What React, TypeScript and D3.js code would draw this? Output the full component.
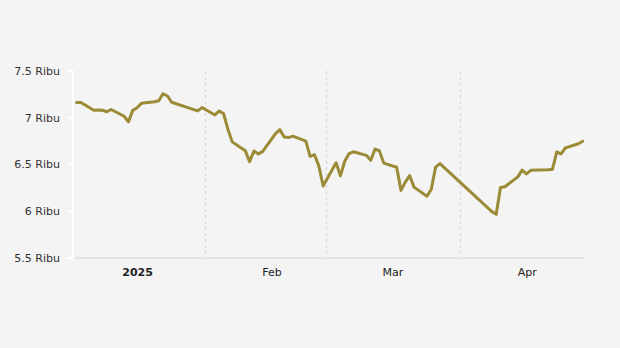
import React from "react";
import * as d3 from "d3";

const dates: string[] = [
  "2025-01-02","2025-01-03","2025-01-06","2025-01-07","2025-01-08","2025-01-09","2025-01-10",
  "2025-01-13","2025-01-14","2025-01-15","2025-01-16","2025-01-17","2025-01-20","2025-01-21",
  "2025-01-22","2025-01-23","2025-01-24","2025-01-30","2025-01-31",
  "2025-02-03","2025-02-04","2025-02-05","2025-02-06","2025-02-07","2025-02-10","2025-02-11",
  "2025-02-12","2025-02-13","2025-02-14","2025-02-17","2025-02-18","2025-02-19","2025-02-20",
  "2025-02-21","2025-02-24","2025-02-25","2025-02-26","2025-02-27","2025-02-28",
  "2025-03-03","2025-03-04","2025-03-05","2025-03-06","2025-03-07","2025-03-10","2025-03-11",
  "2025-03-12","2025-03-13","2025-03-14","2025-03-17","2025-03-18","2025-03-19","2025-03-20",
  "2025-03-21","2025-03-24","2025-03-25","2025-03-26","2025-03-27",
  "2025-04-08","2025-04-09","2025-04-10","2025-04-11","2025-04-14","2025-04-15","2025-04-16",
  "2025-04-17","2025-04-21","2025-04-22","2025-04-23","2025-04-24","2025-04-25","2025-04-28",
  "2025-04-29",
];

const values: number[] = [
  7163, 7164, 7080, 7083, 7080, 7064, 7088,
  7016, 6956, 7079, 7107, 7154, 7171, 7181,
  7257, 7233, 7166, 7073, 7109,
  7030, 7073, 7043, 6875, 6742, 6648, 6531,
  6645, 6613, 6638, 6830, 6873, 6794, 6788,
  6803, 6749, 6587, 6605, 6485, 6270,
  6519, 6380, 6535, 6617, 6636, 6598, 6545,
  6665, 6647, 6515, 6471, 6223, 6311, 6381,
  6258, 6161, 6235, 6472, 6510,
  5996, 5967, 6254, 6262, 6368, 6441, 6400,
  6438, 6445, 6449, 6634, 6613, 6678, 6722,
  6749,
];

const yTicks: number[] = [5500, 6000, 6500, 7000, 7500];
const monthStarts: string[] = ["2025-02-01", "2025-03-01", "2025-04-01"];
const monthLabels: { label: string; mid: string; bold: boolean }[] = [
  { label: "2025", mid: "2025-01-16T12:00:00Z", bold: true },
  { label: "Feb", mid: "2025-02-16T14:00:00Z", bold: false },
  { label: "Mar", mid: "2025-03-16T12:00:00Z", bold: false },
  { label: "Apr", mid: "2025-04-16T14:00:00Z", bold: false },
];

const W = 620;
const H = 348;
const left = 74;
const right = 585;
const top = 71;
const bottom = 258;

const fmt = (v: number) => {
  const k = v / 1000;
  return `${k % 1 === 0 ? k.toFixed(0) : k.toFixed(1)} Ribu`;
};

export default function App() {
  const x = d3
    .scaleUtc()
    .domain([new Date("2025-01-01T19:05:00Z"), new Date("2025-04-29T21:40:00Z")])
    .range([left, right]);
  const y = d3.scaleLinear().domain([5500, 7500]).range([bottom, top]);

  const data = dates.map((d, i) => ({
    t: new Date(d + "T09:00:00Z"),
    v: values[i],
  }));

  const line = d3
    .line<{ t: Date; v: number }>()
    .x((d) => x(d.t))
    .y((d) => y(d.v));

  const font = "'DejaVu Sans', Verdana, sans-serif";

  return (
    <div style={{ position: "fixed", left: 0, top: 0, width: W, height: H }}>
      <svg width={W} height={H} style={{ display: "block", background: "#f4f4f4" }}>
        <rect x={0} y={0} width={W} height={H} fill="#f4f4f4" />
        {monthStarts.map((m) => {
          const xx = Math.round(x(new Date(m + "T00:00:00Z"))) + 0.5;
          return (
            <line
              key={m}
              x1={xx}
              x2={xx}
              y1={top}
              y2={bottom + 5}
              stroke="#dadada"
              strokeWidth={1.5}
              strokeDasharray="3,3"
            />
          );
        })}
        <line x1={left} x2={right} y1={bottom} y2={bottom} stroke="#e3e3e3" strokeWidth={2} />
        <line x1={left - 1} x2={left - 1} y1={top} y2={bottom} stroke="#ffffff" strokeWidth={2} />
        {yTicks.map((t) => (
          <g key={t}>
            <line x1={left - 6} x2={left - 1} y1={y(t)} y2={y(t)} stroke="#ffffff" strokeWidth={2} />
            <text
              x={60}
              y={y(t)}
              dy="0.35em"
              textAnchor="end"
              fontFamily={font}
              fontSize={11}
              fill="#333"
            >
              {fmt(t)}
            </text>
          </g>
        ))}
        {monthLabels.map((m) => (
          <text
            key={m.label}
            x={x(new Date(m.mid))}
            y={276}
            textAnchor="middle"
            fontFamily={font}
            fontSize={11}
            fontWeight={m.bold ? "bold" : "normal"}
            fill="#222"
          >
            {m.label}
          </text>
        ))}
        <path
          d={line(data) || ""}
          fill="none"
          stroke="#9b8b36"
          strokeWidth={3}
          strokeLinejoin="round"
          strokeLinecap="round"
        />
      </svg>
    </div>
  );
}
